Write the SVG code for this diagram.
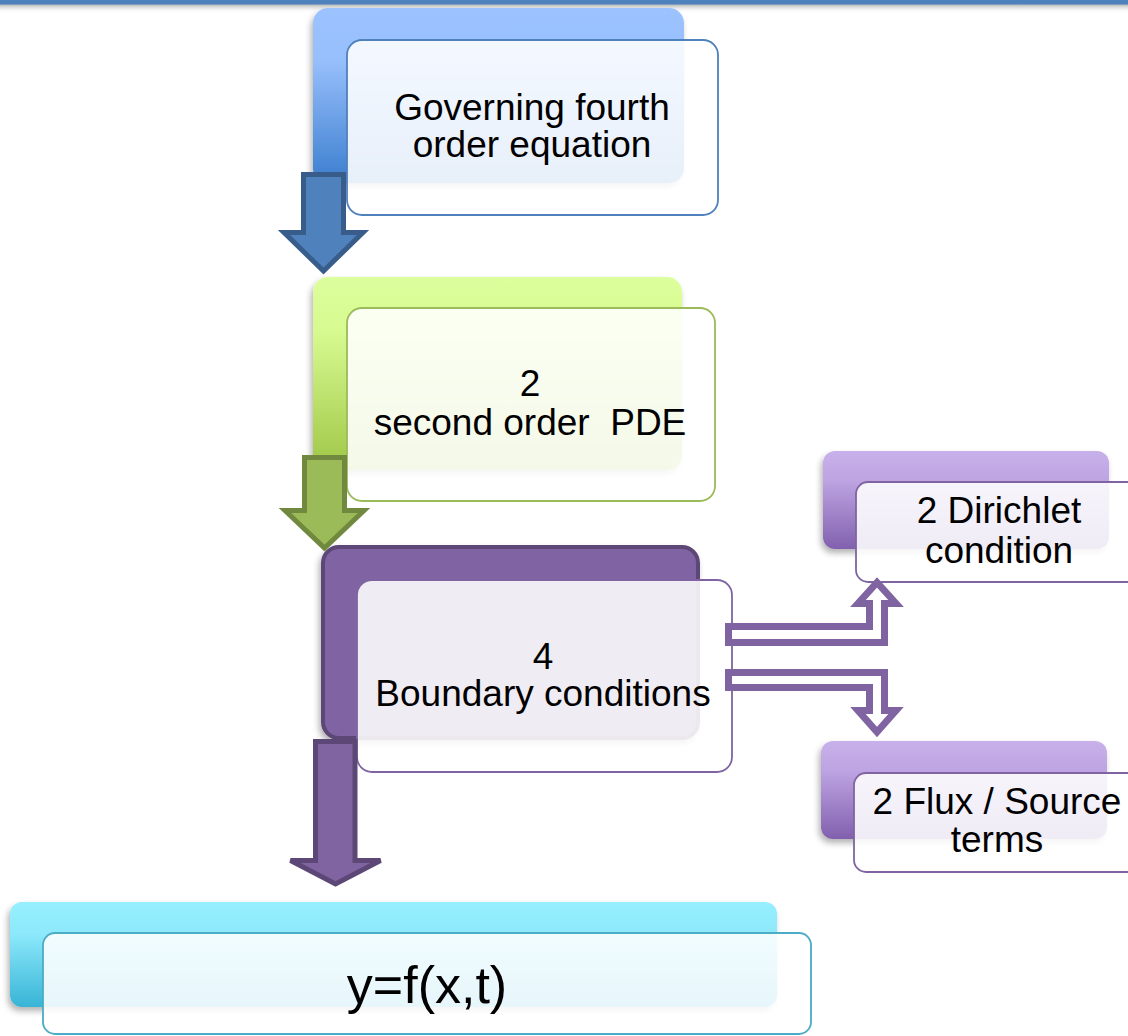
<svg xmlns="http://www.w3.org/2000/svg" width="1128" height="1036" viewBox="0 0 1128 1036">
<style>
.t{font-family:"Liberation Sans",Arial,sans-serif;font-size:37px;fill:#000;text-anchor:middle;white-space:pre}
.front{fill:#fff;fill-opacity:0.88;stroke-width:1.8}
.back{filter:url(#sh)}
</style>
<defs>
<filter id="sh" x="-10%" y="-10%" width="120%" height="130%">
<feDropShadow dx="-2" dy="4" stdDeviation="3" flood-color="#000" flood-opacity="0.3"/>
</filter>
<linearGradient id="gBlue" x1="0" y1="0" x2="0" y2="1"><stop offset="0" stop-color="#9cc3ff"/><stop offset="0.3" stop-color="#97bffb"/><stop offset="1" stop-color="#3c7ecf"/></linearGradient>
<linearGradient id="gGreen" x1="0" y1="0" x2="0" y2="1"><stop offset="0" stop-color="#dcff9d"/><stop offset="0.3" stop-color="#d6f98f"/><stop offset="1" stop-color="#9fc646"/></linearGradient>
<linearGradient id="gPurple" x1="0" y1="0" x2="0" y2="1"><stop offset="0" stop-color="#c8b1ea"/><stop offset="0.3" stop-color="#bea4e2"/><stop offset="1" stop-color="#8160ae"/></linearGradient>
<linearGradient id="gCyan" x1="0" y1="0" x2="0" y2="1"><stop offset="0" stop-color="#95effe"/><stop offset="0.3" stop-color="#8de9fb"/><stop offset="1" stop-color="#38b4d6"/></linearGradient>
<linearGradient id="gBar" x1="0" y1="0" x2="0" y2="1"><stop offset="0" stop-color="#8a8a8a" stop-opacity="0.7"/><stop offset="1" stop-color="#ffffff" stop-opacity="0"/></linearGradient>
</defs>
<rect x="0" y="0" width="1128" height="1036" fill="#fff"/>
<rect x="0" y="4" width="1128" height="9" fill="url(#gBar)"/>
<rect x="0" y="0" width="1128" height="4.5" fill="#4f81bd"/>

<g id="node-governing">
<rect class="back" x="313" y="8" width="371" height="175" rx="15" fill="url(#gBlue)"/>
<rect class="front" x="347" y="40" width="371" height="175" rx="15" stroke="#4f81bd"/>
<text class="t" x="532" y="120">Governing fourth</text>
<text class="t" x="532" y="157">order equation</text>
</g>

<g id="node-pde">
<rect class="back" x="313" y="277" width="369" height="193" rx="15" fill="url(#gGreen)"/>
<rect class="front" x="347" y="308" width="368" height="193" rx="15" stroke="#9bbb59"/>
<text class="t" x="530" y="396">2</text>
<text class="t" x="530" y="435">second order  PDE</text>
</g>

<g id="node-boundary">
<rect class="back" x="323" y="547" width="375" height="191" rx="16" fill="#8064a2" stroke="#5c4776" stroke-width="4"/>
<rect class="front" x="357" y="580" width="375" height="192" rx="15" stroke="#8064a2"/>
<text class="t" x="543" y="669">4</text>
<text class="t" x="543" y="706">Boundary conditions</text>
</g>

<g id="node-dirichlet">
<rect class="back" x="823" y="451" width="286" height="98" rx="12" fill="url(#gPurple)"/>
<rect class="front" x="856" y="482" width="300" height="100" rx="12" stroke="#8064a2"/>
<text class="t" x="999" y="523">2 Dirichlet</text>
<text class="t" x="999" y="563">condition</text>
</g>

<g id="node-flux">
<rect class="back" x="821" y="741" width="286" height="98" rx="12" fill="url(#gPurple)"/>
<rect class="front" x="854" y="773" width="300" height="99" rx="12" stroke="#8064a2"/>
<text class="t" x="997" y="814">2 Flux / Source</text>
<text class="t" x="997" y="852">terms</text>
</g>

<g id="node-result">
<rect class="back" x="10" y="902" width="767" height="105" rx="12" fill="url(#gCyan)"/>
<rect class="front" x="43" y="933" width="768" height="101" rx="12" stroke="#4bacc6"/>
<text class="t" x="427" y="1003" style="font-size:52px">y=f(x,t)</text>
</g>

<g id="connectors">
<polygon points="303.5,174.5 343.5,174.5 343.5,232.5 363,232.5 323.5,271 284,232.5 303.5,232.5" fill="#4f81bd" stroke="#385d8a" stroke-width="5"/>
<polygon points="304.5,457.5 344.5,457.5 344.5,510.5 364,510.5 324.5,548 285,510.5 304.5,510.5" fill="#9bbb59" stroke="#71893f" stroke-width="5"/>
<polygon points="315.5,741.5 355,741.5 355,860.5 380.5,860.5 335.5,884 290.5,860.5 315.5,860.5" fill="#8064a2" stroke="#5c4776" stroke-width="5"/>
<polygon points="728.5,642.5 884.5,642.5 884.5,603.5 896,603.5 877,582.5 858,603.5 869.5,603.5 869.5,626.5 728.5,626.5" fill="#fff" stroke="#8064a2" stroke-width="7"/>
<polygon points="728.5,672.5 884.5,672.5 884.5,710.5 896,710.5 877,732 858,710.5 869.5,710.5 869.5,687.5 728.5,687.5" fill="#fff" stroke="#8064a2" stroke-width="7"/>
</g>
</svg>
